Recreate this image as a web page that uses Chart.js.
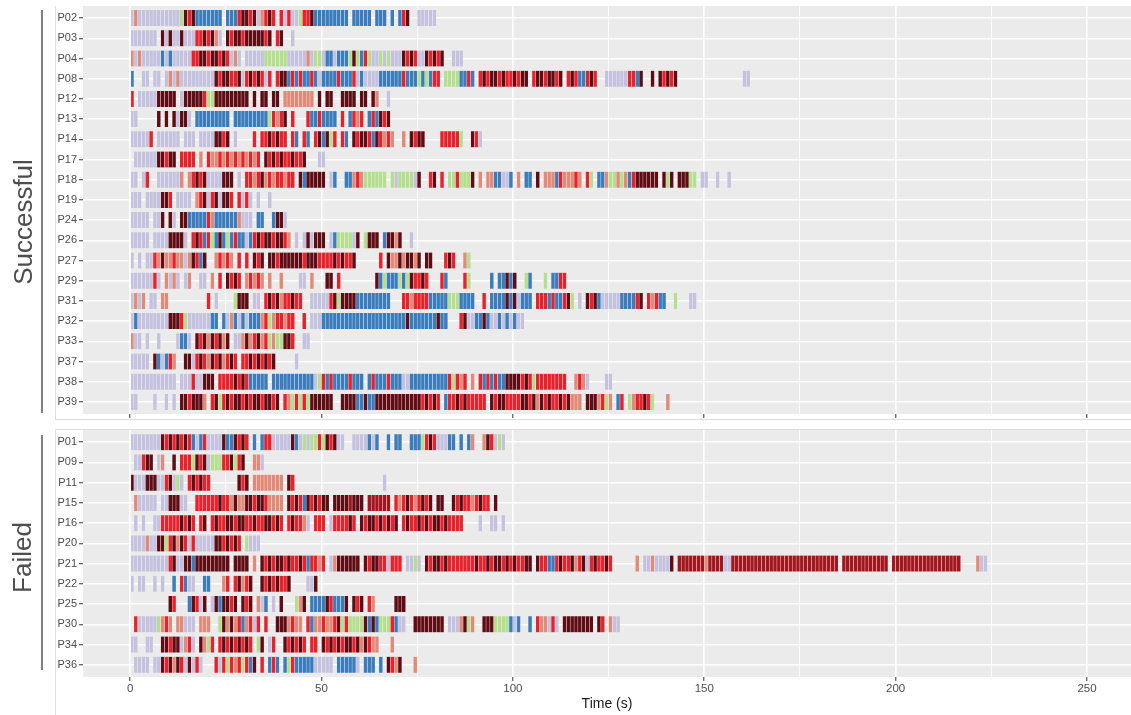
<!DOCTYPE html>
<html>
<head>
<meta charset="utf-8">
<script src="https://cdn.jsdelivr.net/npm/chart.js@4.4.1/dist/chart.umd.min.js"></script>
<style>
body { margin: 0; background: #fff; }
#wrap { position: relative; width: 1131px; height: 715px; }
canvas { position: absolute; left: 0; }
#topChart { top: 0; }
#bottomChart { top: 424px; }
</style>
</head>
<body>
<div id="wrap">
<canvas id="topChart" width="1131" height="420"></canvas>
<canvas id="bottomChart" width="1131" height="291"></canvas>
</div>
<script>
// each timeline: one character per second, starting at 0 s
// l lavender, s salmon, r red, d dark red, f firebrick, b blue, g green, . nothing
const successfulIds = ['P02','P03','P04','P08','P12','P13','P14','P17','P18','P19','P24','P26','P27','P29','P31','P32','P33','P37','P38','P39'];
const successfulTimelines = [
  "lslllllllllllgdrdbbbbbbb.bbbrddrdlsrdr.rlrllgrrdbbbbbbbbb.bbbbb.bbb.b.brd..lllll",
  "lllllll.dldlldlllrrdrdsl.drddrdddddrd.rd..l",
  "slslllllblblllllrrddrddrdrlsl.lllllgggggglllllslgglbblbbbgdgbrgllglgllldrdrlldrdrd..lll",
  "b..ll.ll.lsls" + "lllllllll" + "drddrrdlrdrdrlr.rdd" + "brbrbbrblbbbbrbbbr" + "lbllllbbbbbbrbbbgbgbrr" + ".ggggbbrb.rdrddrdrrdrdd." + "rddrddrd.rdrbbrdr..llllllrrbd" + "..d.drdrd." + "................" + "ll",
  "r.lllllddddd.l" + "dddddrggddddddddd" + ".d.dd.dd.ssssssss." + "d.dd..dddd.dd.ds..l.",
  "ll.....d.d.dlddl." + "bbbbbbbbb.bbbbbbbbb" + "grsrd.r...rbbrbbbb" + ".r.brsr.brbdrd",
  "lllllr.llllll.lll.llll" + "ddrd.l....r.rrdrdrr." + "rb.rb.rdbdgr.rb." + "drddrbdrsrs..s." + "drdd....rrrrrg..drl",
  ".llllll" + "ddrdd." + "rrrr.s." + "rssrsrsrsrsrsr." + "drdrdrrdrrd" + "...ll",
  "ll.lr..llllll" + "s.srdrdllllddd.l." + "rrsrdsrsrrsrr.dbddddd" + ".lb..bbsrsgggggg.glggggl" + "d..rd.r.ggrgggd.s.ssbbllb." + "s.bb.d.sssbrsssrs.rg.bbsggsgsbr" + "dddddd.dgd.dddgg.ll..l..l.",
  "lll.llll" + "ddr.llll." + "srdlrdlddr." + "rlrl.l..l",
  "lllll." + "lld.dl.dd" + "bbbbbrs" + "bbbbbbslll." + "bb..bddl",
  "lllll." + "lllldddd" + "l.rdrbrgbdbgbrbblbrdrddrddrs" + ".l.ldlddd." + "lbggggld.gddd.bddsd..l.",
  "l.l.ll" + "rsdssrssl" + "sdrbd..srsrs.r.r." + "drd.ddrddddddrdddrrrrdrdrrd" + "......" + "r.dssdsddsd.dd" + "...rdr..sg",
  "llllllrl.slsl.ls..ll." + "s.r.drdr.srsrs.s..s." + "...ll.s...dd.r" + "........." + "dbgbbbgbgdrrdr..." + "rb....rg.....b.bbdbd..gb...g.bbrr",
  "lsls.ll.ss.........." + "r.l....gddd.ll." + "rdrdsrrdrr..lllllrdgdddd" + "bbbbbbbbb...rrsrrrr" + "bbbbbgggbbbb..r.bbbbdbdlbbb." + "rrrbrbbrdg.l.drdblllllbbbbrd" + ".rsrbb..g...ll.",
  "lblllllllldddrg" + "llllllbb.blsblblbbbsrgsrrsrr..r." + "lll" + "bbbbbbbbbbbbbbbbbbbbbb" + "d" + "bbbbbbb" + "d" + "bb" + "...rdllbbdbllblblbll",
  "sll.l..l....lbbl." + "drdsdrdsd.llsdsrdsrgsggddr" + "..ll",
  "lllll.dblbrs.." + "ddlrdrsdrdsrdr." + "rrdrdrdrd" + "....." + "l",
  "llllllllllll.lllrllddd." + "rrrrdrdrbbbbb.bbbbbbbbbbb" + "lgrbrbbbbrbbb.brbbbrbbb" + "llbbbbbbbbbbrgrsr.s." + "rbrbrbbddddrdrgrrrrrrrr" + "..srsl....ll.",
  "ll....l..l.l." + "ddrddds.rdgrdrddrdrddrddrd" + ".rsgrgrgdddddd..dddd" + "bbdbbd" + "ddddddddddd" + "rdrdr" + ".brrdrdrrrrr.drddrrrrddrd" + "sdrdrrdrdsss.dddsrgs.br.gsrrdrg...s"
];
const failedIds = ['P01','P09','P11','P15','P16','P20','P21','P22','P25','P30','P34','P36'];
const failedTimelines = [
  "llllllll" + "drdrdrdr" + "blbr" + "llll" + "dbbdrdr.b.brrllllldblglgg" + "rgdrdll..llllblb..b.bb..bbb" + "grdrlllbb.b.bs..sdrlgl",
  ".llrdd.ls..d.rrrgdrdlgggrrdgrd..ssl",
  "dllldddllrdlgl." + "rdrdrr" + "......." + "drd." + "ssssssss" + ".dr" + "......................." + "l.",
  ".slllll.lldddll.." + "rrrrrrdrrsdssddrddrssss." + "drdrbdrdrdd.ddddfddd.ffffff." + "rsrdrsrdrd.dd..drdrrsrdrr.d.",
  ".l.l..llrrrrrdrdr.rd." + "rdrrddrddrrdrrddrdr.rdrrsl." + "rrr.lrrrrdr.drddrdrdrd." + "rdrrdrdrddrdrrrr....l..ll.l",
  "llllsllddgrdsdrlrlllllddrdrdr.glll",
  "llllllllll" + "rdllddb" + "ddddddddd" + ".dddd.s.drdrddrdrrdrbrrsr." + "lsdddddd.drddrrlrrr.llgl." + "drddrdrrrrrrrdrrdrddrdrdrrdd" + ".drrbbrdrrdsrdlrdrrdr......" + "s.llslllld.fffffffsffffll" + "ffffffffffffffffffffffffffff" + "." + "ffffffffffff" + "." + "ffffffffffffffffff" + "....sll",
  "l.ll..l.l.." + "b.rbll..bb..." + "sr.rdsrd.." + "drdrdrrd" + "....lld",
  ".........." + "dr...bdrld.ldbddrd.drd.slb.l.d...gsd.bbbbdrbbbd.drd.rs.....ddd",
  ".rlllllgsrs.sslll.sss." + ".gdsdsrbsrlr.r..dddsrss." + "rbssrssrdgrggggdbdbgggrbll.." + "dddddddd" + ".lllsdgs..dddggggblb" + "..b.rsslrl." + "dddddddd" + ".dr.sll",
  "ll..ll.." + "ddrdd" + "lsrl." + "dsgr." + "rdrdrdrdr." + "gd.lr.." + "drdrdr." + "rr." + "drdrdrddrdsdrss" + "...s.",
  ".llll.ll" + "drdsdrldlrl..." + "rlrgrsrgrbd.r.brb.bgrbbbbb" + "lllll.bbbbbl.bbb.b.drsd...s"
];
const xTicks = [0, 25, 50, 75, 100, 125, 150, 175, 200, 225, 250];
const xMin = -12.3;
const xMax = 261.5;

const codeColors = {l: '#c4c2de', s: '#e28a78', r: '#e8212b', d: '#600c14', f: '#a4161e', b: '#3a7cbc', g: '#b5de8f'};
const textGray = '#4d4d4d';
Chart.defaults.font.family = '"Liberation Sans", Arial, sans-serif';

function toSegments(timelines) {
  let out = [];
  timelines.forEach((line, row) => {
    for (let i = 0; i < line.length; i++) {
      let c = line[i];
      if (c == '.') continue;
      out.push({x: [i, i + 1], y: row, code: c});
    }
  });
  return out;
}

function makePanel(canvasId, ids, timelines, cfg) {
  let deco = {
    id: 'deco',
    beforeDraw(chart) {
      let {ctx, chartArea: a} = chart;
      ctx.save();
      ctx.fillStyle = '#ebebeb';
      ctx.fillRect(a.left, a.top, a.right - a.left, a.bottom - a.top);
      ctx.restore();
    },
    afterDraw(chart) {
      let ctx = chart.ctx;
      ctx.save();
      // light frame round the panel area
      ctx.strokeStyle = '#dedede';
      ctx.lineWidth = 1;
      ctx.beginPath();
      ctx.moveTo(55.5, cfg.frameTop);
      ctx.lineTo(55.5, cfg.frameBottom);
      ctx.moveTo(55, cfg.frameLineY);
      ctx.lineTo(1131, cfg.frameLineY);
      ctx.stroke();
      // strip line and label
      ctx.strokeStyle = '#808080';
      ctx.lineWidth = 2;
      ctx.beginPath();
      ctx.moveTo(42, cfg.stripTop);
      ctx.lineTo(42, cfg.stripBottom);
      ctx.stroke();
      ctx.translate(cfg.textX, cfg.textY);
      ctx.rotate(-Math.PI / 2);
      ctx.font = '26px "Liberation Sans", Arial, sans-serif';
      ctx.fillStyle = textGray;
      ctx.textAlign = 'center';
      ctx.textBaseline = 'alphabetic';
      ctx.fillText(cfg.strip, 0, 0);
      ctx.restore();
    }
  };

  return new Chart(document.getElementById(canvasId), {
    type: 'bar',
    data: {
      datasets: [{
        data: toSegments(timelines),
        backgroundColor: (c) => c.raw ? codeColors[c.raw.code] : '#ccc',
        borderColor: 'rgba(255,255,255,0.45)',
        borderWidth: {left: 0.5, right: 0.5, top: 0, bottom: 0},
        borderSkipped: false,
        barThickness: 16
      }]
    },
    options: {
      responsive: false,
      animation: false,
      indexAxis: 'y',
      layout: {padding: {top: 6, right: 0, bottom: 0, left: 0}},
      plugins: {legend: {display: false}, tooltip: {enabled: false}},
      scales: {
        x: {
          type: 'linear',
          min: xMin,
          max: xMax,
          afterBuildTicks: (s) => { s.ticks = xTicks.map(v => ({value: v})); },
          afterFit: (s) => { s.height = cfg.xHeight; s.paddingLeft = 0; s.paddingRight = 0; },
          border: {display: false},
          grid: {
            color: '#ffffff',
            lineWidth: (c) => (c.tick && c.tick.value % 50 === 0) ? 1.6 : 0.8,
            tickColor: (c) => (c.tick && c.tick.value % 50 === 0) ? '#333333' : 'rgba(0,0,0,0)',
            tickLength: 4,
            tickWidth: 1
          },
          ticks: {
            display: cfg.showX,
            autoSkip: false,
            maxRotation: 0,
            padding: 1,
            color: textGray,
            font: {size: 11.5},
            callback: (v) => v % 50 === 0 ? String(v) : ''
          },
          title: {
            display: cfg.showX,
            text: 'Time (s)',
            color: '#1a1a1a',
            font: {size: 14},
            padding: {top: 0, bottom: 2.6}
          }
        },
        y: {
          type: 'linear',
          reverse: true,
          offset: false,
          min: -0.6,
          max: ids.length - 0.4,
          afterBuildTicks: (s) => { s.ticks = ids.map((_, i) => ({value: i})); },
          afterFit: (s) => { s.width = 83; s.paddingTop = 0; s.paddingBottom = 0; },
          border: {display: false},
          grid: {offset: false, color: '#ffffff', lineWidth: 1.5, tickColor: '#333333', tickLength: 4, tickWidth: 1},
          ticks: {
            autoSkip: false,
            padding: 2,
            color: textGray,
            font: {size: 11},
            callback: (v, i) => ids[i]
          }
        }
      }
    },
    plugins: [deco]
  });
}

makePanel('topChart', successfulIds, successfulTimelines, {
  showX: false, xHeight: 6,
  frameTop: 6, frameBottom: 420, frameLineY: 419.5,
  stripTop: 10, stripBottom: 413, strip: 'Successful', textX: 32, textY: 222
});
makePanel('bottomChart', failedIds, failedTimelines, {
  showX: true, xHeight: 38,
  frameTop: 5, frameBottom: 291, frameLineY: 5.5,
  stripTop: 11, stripBottom: 246, strip: 'Failed', textX: 31, textY: 133.5
});
</script>
</body>
</html>
